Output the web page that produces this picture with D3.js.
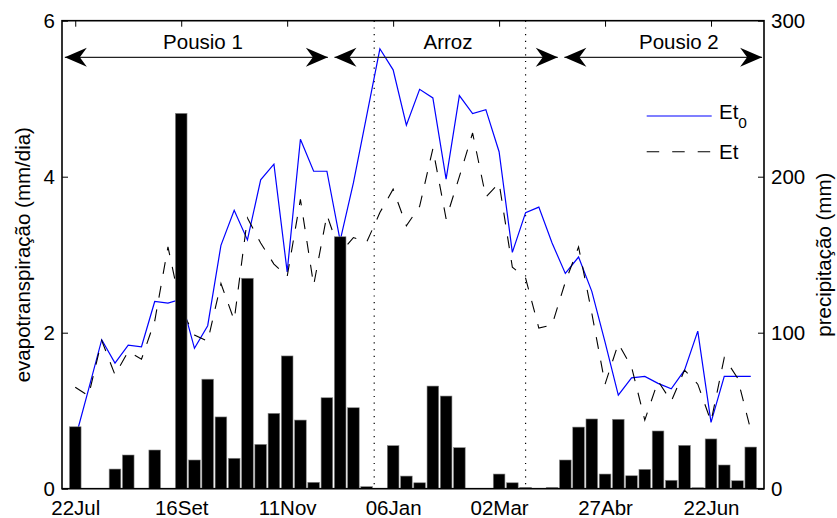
<!DOCTYPE html>
<html>
<head>
<meta charset="utf-8">
<script src="https://cdn.jsdelivr.net/npm/d3@7"></script>
<style>
  body { margin: 0; background: #fff; }
  text { font-family: "Liberation Sans", Arial, sans-serif; fill: #000; }
</style>
</head>
<body>
<div id="chart"></div>
<script>
// weekly values, first week = 22Jul (day 0), one entry per week
const et0 = [0.64, 1.27, 1.91, 1.61, 1.84, 1.82, 2.40, 2.38, 2.43, 1.80,
             2.09, 3.12, 3.57, 3.19, 3.96, 4.16, 2.78, 4.48, 4.07, 4.07,
             3.18, 3.92, 4.78, 5.64, 5.37, 4.66, 5.12, 5.01, 3.97, 5.04,
             4.81, 4.86, 4.32, 3.03, 3.54, 3.61, 3.15, 2.76, 2.97, 2.53,
             1.88, 1.20, 1.42, 1.44, 1.35, 1.28, 1.52, 2.02, 0.85, 1.44,
             1.44, 1.44];
const et = [1.30, 1.19, 1.90, 1.46, 1.76, 1.66, 2.15, 3.10, 2.30, 1.97,
            1.89, 2.63, 2.16, 3.47, 3.15, 2.88, 2.72, 3.71, 2.61, 3.51,
            3.02, 3.22, 3.16, 3.54, 3.84, 3.37, 3.62, 4.36, 3.46, 4.00,
            4.56, 3.74, 3.92, 2.84, 2.70, 2.06, 2.10, 2.65, 3.10, 2.25,
            1.34, 1.86, 1.56, 0.88, 1.38, 1.12, 1.52, 1.34, 0.86, 1.68,
            1.42, 0.75];
const precip = [39.7, 0, 0, 12.6, 21.6, 0, 24.8, 0, 240.6, 18.4,
                70.2, 46.0, 19.5, 134.9, 28.4, 48.3, 85.1, 44.0, 4.1, 58.3,
                161.5, 51.9, 1.3, 0, 27.6, 8.1, 3.8, 65.8, 59.4, 26.3,
                0, 0, 9.4, 3.8, 0.8, 0, 0.8, 18.4, 39.5, 44.7,
                9.4, 44.5, 8.3, 12.4, 37.0, 5.4, 27.8, 0.6, 31.9, 15.2,
                5.1, 26.7];

const tickDays = [0, 56, 112, 168, 224, 280, 336];
const tickLabels = ["22Jul", "16Set", "11Nov", "06Jan", "02Mar", "27Abr", "22Jun"];
const leftTicks = [0, 2, 4, 6];
const rightTicks = [0, 100, 200, 300];

// crop periods (days since 22Jul)
const periodNames = ["Pousio 1", "Arroz", "Pousio 2"];
const periodFrom = [-5.5, 137, 258.5];
const periodTo = [133.5, 255, 363];
const periodLabelAt = [67.5, 197, 319];
const markDays = [158, 238];

const W = 837, H = 518;
const margin = { top: 20.7, right: 73, bottom: 29.3, left: 62 };
const width = W - margin.left - margin.right;
const height = H - margin.top - margin.bottom;
const fontSize = 20.5;

const svg = d3.select("#chart").append("svg")
    .attr("width", W)
    .attr("height", H)
    .append("g")
    .attr("transform", `translate(${margin.left},${margin.top})`);

const x = d3.scaleLinear().domain([-7, 364]).range([0, width]);
const yL = d3.scaleLinear().domain([0, 6]).range([height, 0]);
const yR = d3.scaleLinear().domain([0, 300]).range([height, 0]);

const dayOf = i => i * 7;

// dotted vertical lines
svg.selectAll(".mark")
    .data(markDays)
    .enter().append("line")
    .attr("class", "mark")
    .attr("x1", d => x(d)).attr("x2", d => x(d))
    .attr("y1", 0).attr("y2", height)
    .attr("stroke", "#000")
    .attr("stroke-width", 1.2)
    .attr("stroke-dasharray", "1.2,5.5");

const lineGen = d3.line()
    .x((d, i) => x(dayOf(i)))
    .y(d => yL(d));

svg.append("path")
    .datum(et0)
    .attr("fill", "none")
    .attr("stroke", "#0000ff")
    .attr("stroke-width", 1.2)
    .attr("d", lineGen);

svg.append("path")
    .datum(et)
    .attr("fill", "none")
    .attr("stroke", "#000")
    .attr("stroke-width", 1.1)
    .attr("stroke-dasharray", "12,12")
    .attr("d", lineGen);

// precipitation bars (right axis), drawn on top
const bw = (x(7) - x(0)) * 0.88;
svg.selectAll(".bar")
    .data(precip)
    .enter().append("rect")
    .attr("class", "bar")
    .attr("x", (d, i) => x(dayOf(i)) - bw / 2)
    .attr("y", d => yR(d))
    .attr("width", bw)
    .attr("height", d => yR(0) - yR(d))
    .attr("fill", "#000")
    .attr("stroke", "#888")
    .attr("stroke-width", 0.6);

// axes
function styleAxis(g) {
    g.select(".domain").remove();
    g.selectAll(".tick line").attr("stroke", "#000").attr("stroke-width", 1);
    g.selectAll("text")
        .attr("font-size", fontSize)
        .attr("font-family", '"Liberation Sans", Arial, sans-serif');
}

svg.append("g")
    .attr("transform", `translate(0,${height})`)
    .call(d3.axisBottom(x).tickValues(tickDays)
        .tickFormat((d, i) => tickLabels[i])
        .tickSize(-6).tickPadding(11.4))
    .call(styleAxis);

svg.append("g")
    .call(d3.axisTop(x).tickValues(tickDays).tickFormat("").tickSize(-6))
    .call(styleAxis);

svg.append("g")
    .call(d3.axisLeft(yL).tickValues(leftTicks).tickFormat(d3.format("d"))
        .tickSize(-6).tickPadding(7))
    .call(styleAxis);

svg.append("g")
    .attr("transform", `translate(${width},0)`)
    .call(d3.axisRight(yR).tickValues(rightTicks).tickFormat(d3.format("d"))
        .tickSize(-6).tickPadding(7))
    .call(styleAxis);

// box
svg.append("rect")
    .attr("x", 0).attr("y", 0)
    .attr("width", width).attr("height", height)
    .attr("fill", "none")
    .attr("stroke", "#000")
    .attr("stroke-width", 1.6);

// axis titles
svg.append("text")
    .attr("transform", `translate(${30 - margin.left},${height / 2}) rotate(-90)`)
    .attr("text-anchor", "middle")
    .attr("font-size", fontSize)
    .text("evapotranspiração (mm/dia)");

svg.append("text")
    .attr("transform", `translate(${831 - margin.left},${height / 2}) rotate(-90)`)
    .attr("text-anchor", "middle")
    .attr("font-size", fontSize)
    .text("precipitação (mm)");

// period arrows
const arrowY = 57.3 - margin.top;
function head(tx, dir) {
    // dir = +1 head points left, -1 head points right
    const b = tx + dir * 22, n = tx + dir * 15;
    return `M${tx},${arrowY} L${b},${arrowY - 9.5} L${n},${arrowY} L${b},${arrowY + 9.5} Z`;
}

periodNames.forEach((name, i) => {
    const x0 = x(periodFrom[i]), x1 = x(periodTo[i]);
    svg.append("line")
        .attr("x1", x0).attr("x2", x1)
        .attr("y1", arrowY).attr("y2", arrowY)
        .attr("stroke", "#222")
        .attr("stroke-width", 1.2);
    svg.append("path").attr("d", head(x0, 1)).attr("fill", "#000");
    svg.append("path").attr("d", head(x1, -1)).attr("fill", "#000");
    svg.append("text")
        .attr("x", x(periodLabelAt[i]))
        .attr("y", 49 - margin.top)
        .attr("text-anchor", "middle")
        .attr("font-size", fontSize)
        .text(name);
});

// legend
const legend = svg.append("g")
    .attr("transform", `translate(${646.7 - margin.left},0)`);

legend.append("line")
    .attr("x1", 0).attr("x2", 65)
    .attr("y1", 116 - margin.top).attr("y2", 116 - margin.top)
    .attr("stroke", "#0000ff").attr("stroke-width", 1.2);

const t0 = legend.append("text")
    .attr("x", 72.3)
    .attr("y", 119.5 - margin.top)
    .attr("font-size", fontSize);
t0.append("tspan").text("Et");
t0.append("tspan").attr("dy", 9).attr("font-size", 15.5).text("0");

legend.append("line")
    .attr("x1", 0).attr("x2", 65)
    .attr("y1", 151.7 - margin.top).attr("y2", 151.7 - margin.top)
    .attr("stroke", "#000").attr("stroke-width", 1.1)
    .attr("stroke-dasharray", "12.5,13");

legend.append("text")
    .attr("x", 72.3)
    .attr("y", 159.3 - margin.top)
    .attr("font-size", fontSize)
    .text("Et");
</script>
</body>
</html>
